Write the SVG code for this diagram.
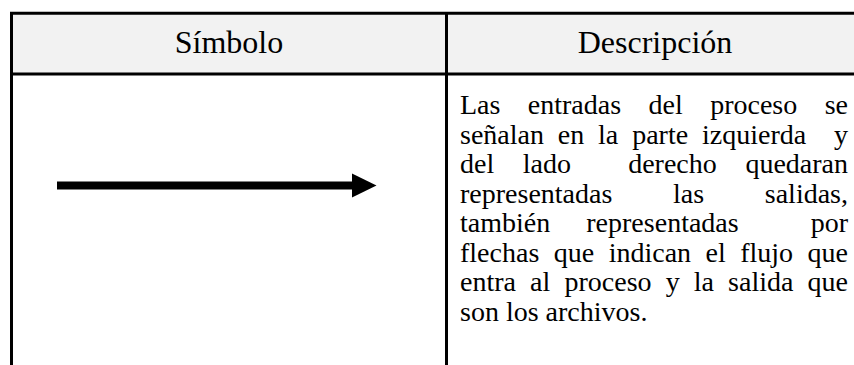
<svg xmlns="http://www.w3.org/2000/svg" width="854" height="365" viewBox="0 0 854 365">
  <style>
    .line { stroke: #000; stroke-width: 3; fill: none; }
    .hdr { font-family: "Liberation Serif", "Times New Roman", serif; font-size: 32px; fill: #000; text-anchor: middle; }
    .body { font-family: "Liberation Serif", "Times New Roman", serif; font-size: 28px; fill: #000; }
  </style>
  <rect width="854" height="365" fill="#fff"/>
  <g id="header-row">
    <rect x="11.5" y="13.3" width="842.5" height="60.7" fill="#f2f2f2"/>
    <text class="hdr" x="229" y="53">Símbolo</text>
    <text class="hdr" x="655" y="53">Descripción</text>
  </g>
  <g id="table-lines">
    <line class="line" x1="10" y1="13.3" x2="854" y2="13.3"/>
    <line class="line" x1="10" y1="74" x2="854" y2="74"/>
    <line class="line" x1="11.5" y1="12" x2="11.5" y2="365"/>
    <line class="line" x1="446.5" y1="12" x2="446.5" y2="365"/>
  </g>
  <g id="symbol-arrow">
    <line x1="57" y1="185.5" x2="353" y2="185.5" stroke="#000" stroke-width="8"/>
    <polygon points="352,173.5 376.5,185.5 352,197.5" fill="#000"/>
  </g>
  <g id="description">
    <text class="body" y="114"><tspan x="460">Las</tspan><tspan x="527.8">entradas</tspan><tspan x="648.6">del</tspan><tspan x="710.2">proceso</tspan><tspan x="824.7">se</tspan></text>
    <text class="body" y="143.5"><tspan x="460">señalan</tspan><tspan x="557.8">en</tspan><tspan x="598.1">la</tspan><tspan x="632.2">parte</tspan><tspan x="702.1">izquierda</tspan><tspan x="834">y</tspan></text>
    <text class="body" y="173"><tspan x="460">del</tspan><tspan x="522.8">lado</tspan><tspan x="628.2">derecho</tspan><tspan x="745.4">quedaran</tspan></text>
    <text class="body" y="202.5"><tspan x="460">representadas</tspan><tspan x="673">las</tspan><tspan x="764.8">salidas,</tspan></text>
    <text class="body" y="232"><tspan x="460">también</tspan><tspan x="586.3">representadas</tspan><tspan x="810.7">por</tspan></text>
    <text class="body" y="261.5"><tspan x="460">flechas</tspan><tspan x="553.8">que</tspan><tspan x="608.7">indican</tspan><tspan x="705.5">el</tspan><tspan x="740.2">flujo</tspan><tspan x="807.6">que</tspan></text>
    <text class="body" y="291"><tspan x="460">entra</tspan><tspan x="530.1">al</tspan><tspan x="564.5">proceso</tspan><tspan x="665.7">y</tspan><tspan x="693.8">la</tspan><tspan x="728.1">salida</tspan><tspan x="807.6">que</tspan></text>
    <text class="body" x="460" y="320.5">son los archivos.</text>
  </g>
</svg>
